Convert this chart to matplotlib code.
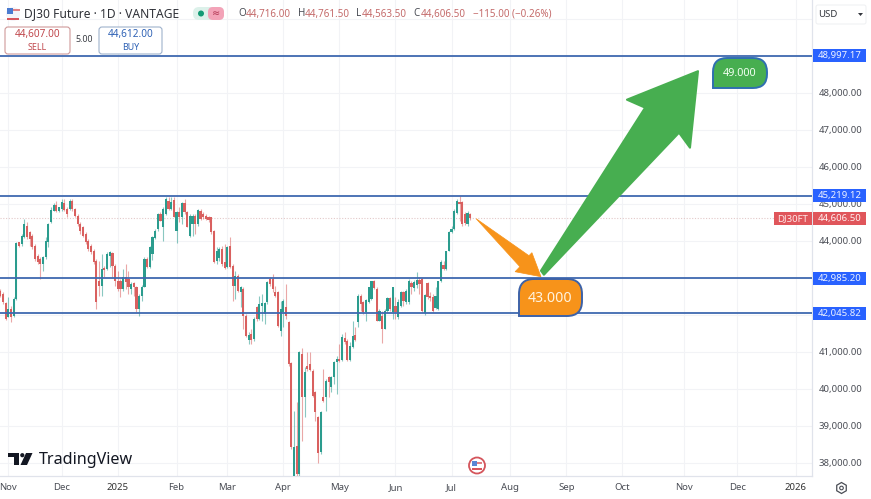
import matplotlib
matplotlib.use('Agg')
import matplotlib.pyplot as plt
import matplotlib.patches as mpatches
from matplotlib.path import Path
from matplotlib.transforms import Affine2D

plt.rcParams['font.family'] = ['Noto Sans', 'DejaVu Sans']

# daily candles (bar number = position in the list)
opens = [42652,42562,42310,41932,42157,41977,42427,43957,43912,44092,44407,44227,44137,43867,43597,43507,43372,43552,43957,44497,
    44812,44974,44794,44857,45010,44857,44857,45082,44857,44677,44452,44362,44182,44002,43867,43732,43462,42922,42787,43264,
    43237,43597,43660,43327,42922,42922,42697,43012,42967,42697,42850,42760,42157,42517,42760,43507,43300,43642,44074,44317,
    44722,44380,44722,45082,44857,45100,44272,44767,44632,45010,44767,44137,44452,44677,44452,44812,44722,44677,44632,44632,
    44254,43462,43534,43777,43417,43282,43867,43327,42787,43057,42625,42697,41977,41320,41482,41347,42202,41887,42247,42022,
    42337,42967,42967,42607,42607,41572,42067,42202,41794,40687,37654,38464,37699,40939,39769,40624,40669,40489,39904,39229,
    38284,39769,39769,40309,40039,40309,40714,40804,40777,41371,41299,40777,41119,41461,41794,42514,42334,42064,42334,42424,
    42901,42694,41839,41974,41614,42109,42451,42066,42246,41931,42246,42606,42336,42336,42849,42723,42813,42939,42966,42039,
    42849,42516,42489,42183,42156,42903,43353,43236,43731,44226,44316,44739,45036,45036,44721,44451,44716]
highs = [42697,42607,42337,42472,42247,42472,43957,43975,44182,44587,44497,44272,44182,43912,43642,43570,43597,44092,44470,44902,
    45010,45082,44920,45127,45127,44902,45127,45127,44884,44722,44497,44407,44227,44047,43912,43777,43507,43462,43642,43327,
    43687,43732,43687,43372,43192,42967,43237,43372,43192,42877,42877,42787,42562,42814,43552,43552,43867,44137,44317,44740,
    44767,44902,45172,45172,45190,45190,44812,44902,45037,45127,44812,44722,44722,44722,44857,44857,44767,44722,44677,44650,
    44290,43822,43822,43867,43912,43867,44092,43372,43192,43102,42787,42742,42022,41527,41617,41932,42247,42517,42562,42337,
    42922,43012,43102,42787,42652,42382,42427,42832,41821,40714,39409,39634,41029,41101,40579,40984,40984,40534,39949,39274,
    39409,40534,40264,40354,40354,40759,40894,41209,41479,41524,41344,41254,41839,41659,42559,42559,42379,42424,42757,42919,
    42937,42739,42154,42109,42154,42487,42487,42741,42471,42426,42651,42651,42696,42966,42903,42939,43146,43011,42993,42561,
    42876,42606,42561,42741,42921,43479,43443,43731,44253,44406,44856,45126,45219,45081,44766,44793,44761]
lows = [42472,42292,41860,41932,41797,41932,42400,43822,43867,44074,44047,43867,43777,43462,43372,42967,43174,43507,43822,44470,
    44794,44767,44767,44812,44812,44650,44830,44794,44632,44407,44182,44092,43912,43732,43642,43372,42157,42517,42517,43012,
    43210,43282,43012,42787,42652,42472,42652,42697,42562,42562,42517,42067,41977,42382,42742,43264,43264,43480,44047,44272,
    44524,44002,44704,44830,44830,44632,43930,44497,44452,44722,44362,44110,44137,44182,44407,44560,44587,44560,44497,44182,
    43390,43372,43462,43327,43237,43264,43264,42382,42427,42607,42202,41617,41392,41212,41212,41302,41842,41860,41842,41752,
    42292,42787,42607,42472,41662,41437,41662,41887,40624,38374,37640,37640,37640,38599,39229,40489,40489,39769,39139,37987,
    38239,39634,39409,39769,39904,40129,39859,40714,40759,41209,40759,40759,41101,41299,41677,42109,42019,41839,42307,42397,
    42694,41821,41821,41227,41614,42064,42109,41886,41886,41886,42201,42246,42291,42291,42561,42651,42723,42561,42066,42003,
    42426,42381,42066,42156,42129,42876,43209,43209,43713,44199,44289,44721,44541,44406,44424,44406,44563]
closes = [42517,42337,41887,42157,41932,42427,43930,43867,44137,44452,44092,44047,43822,43507,43417,43372,43552,44002,44452,44830,
    44974,44794,44902,45037,44830,44722,45082,44857,44677,44452,44272,44137,43957,43777,43687,43417,42337,42787,43237,43210,
    43642,43687,43327,42922,42697,42697,43012,42877,42742,42832,42760,42157,42517,42760,43507,43282,43822,44092,44272,44722,
    44542,44857,45127,44857,45037,44650,44767,44632,45010,44767,44380,44677,44677,44452,44830,44587,44632,44587,44560,44227,
    43417,43732,43777,43372,43264,43822,43282,42787,43057,42652,42760,41977,41437,41464,41320,41887,41887,42292,42310,42310,
    42877,42832,42697,42517,41707,42157,42382,41977,40669,38419,38419,37699,40984,39769,40444,40534,40507,39814,39364,38257,
    39364,39679,40219,40174,40309,40714,40804,40759,41407,41254,40777,41164,41434,41317,42514,42289,42064,42397,42739,42901,
    42721,41839,42109,41614,42109,42451,42154,42741,42066,42336,42606,42381,42651,42921,42759,42876,42939,42831,42111,42543,
    42471,42453,42093,42516,42903,43416,43236,43713,44226,44316,44811,45081,44991,44451,44469,44739,44606.5]

# horizontal levels drawn on the chart
level_prices = [48997.17, 45219.12, 42985.20, 42045.82]
level_labels = ['48,997.17', '45,219.12', '42,985.20', '42,045.82']
last_price = 44606.5

# 42,000 and 43,000 sit under the level tags in the original, so no label there
price_ticks = [38000,39000,40000,41000,42000,43000,44000,45000,46000,47000,48000]
price_labels = ['38,000.00','39,000.00','40,000.00','41,000.00','','','44,000.00','45,000.00','46,000.00','47,000.00','48,000.00']
grid_only_prices = [49000, 50000]

month_bars = [3,23,44,66,85,106,127,148,169,191,212,233,256,276,298]
month_labels = ['Nov','Dec','2025','Feb','Mar','Apr','May','Jun','Jul','Aug','Sep','Oct','Nov','Dec','2026']

# forecast arrows as bar number / price
orange_bars = [178.2,198.0,199.1,202.5,192.8,194.6]
orange_prices = [44595,43595,43676,43027,43162,43297]
green_bars = [261.3,258.3,254.2,203.6,202.5,241.5,234.7]
green_prices = [48581,46514,46919,43081,43189,47595,47811]

W, H = 871, 499
YMIN, YMAX = 37641, 50505
fig = plt.figure(figsize=(W/100, H/100), dpi=100, facecolor='white')
ax = fig.add_axes([0, 1-476/H, 812/W, 476/H])
px = Affine2D().scale(1, -1).translate(0, H)  # image pixels, y going down

GREEN = '#2b9c8e'
RED = '#d9605f'
BLUE = '#3f69b0'
TAG = '#2962ff'
GRID = '#f2f3f6'
TXT = '#4a4d55'

# candles
for i in range(len(opens)):
    up = closes[i] >= opens[i]
    c = GREEN if up else RED
    ax.vlines(i, lows[i], highs[i], color=c, lw=0.8, alpha=0.55, zorder=3)
    bottom = min(opens[i], closes[i])
    ax.bar(i, abs(closes[i]-opens[i]), bottom=bottom, width=0.8, color=c, lw=0, zorder=4)

ax.set_xlim(-0.11, 304)
ax.set_ylim(YMIN, YMAX)
ax.yaxis.tick_right()
ax.set_yticks(price_ticks)
ax.set_yticklabels(price_labels, fontsize=6.9, color=TXT)
ax.set_yticks(grid_only_prices, minor=True)
ax.set_xticks(month_bars)
ax.set_xticklabels(month_labels, fontsize=6.9, color=TXT)
for lab in ax.get_xticklabels():
    if lab.get_text() in ('2025', '2026'):
        lab.set_fontweight('bold')
        lab.set_color('#333333')
ax.tick_params(axis='both', which='both', length=0)
ax.tick_params(axis='x', pad=5)
ax.tick_params(axis='y', pad=5)
ax.grid(True, which='both', color=GRID, lw=0.8, zorder=0)
ax.set_axisbelow(True)
for s in ['top', 'left']:
    ax.spines[s].set_visible(False)
for s in ['right', 'bottom']:
    ax.spines[s].set_color('#e0e3eb')
    ax.spines[s].set_linewidth(0.9)

# levels and last price line
for p in level_prices:
    ax.axhline(p, color=BLUE, lw=1.3, zorder=5)
ax.axhline(last_price, color='#e3c9c9', lw=0.8, ls=(0, (1, 1.5)), zorder=2)

# forecast arrows
ax.add_patch(mpatches.Polygon(list(zip(orange_bars, orange_prices)), closed=True, fc='#f7931a', ec='#f7931a', lw=0.5, zorder=7))
ax.add_patch(mpatches.Polygon(list(zip(green_bars, green_prices)), closed=True, fc='#47ae50', ec='#47ae50', lw=1.5, joinstyle='round', zorder=6))


def box(x0, y0, x1, y1, fc, ec='none', lw=0.0, r=0.0):
    if r > 0:
        p = mpatches.FancyBboxPatch((x0+r, y0+r), x1-x0-2*r, y1-y0-2*r, boxstyle='round,pad=%g,rounding_size=%g' % (r, r),
                                    fc=fc, ec=ec, lw=lw, transform=px)
    else:
        p = mpatches.Rectangle((x0, y0), x1-x0, y1-y0, fc=fc, ec=ec, lw=lw, transform=px)
    fig.add_artist(p)


def label(x, y, s, size=6.9, color=TXT, ha='center', weight='normal'):
    fig.text(x, y, s, transform=px, fontsize=size, color=color, ha=ha, va='center', fontweight=weight, zorder=9)


def callout(x0, y0, x1, y1, r, fc, ec):
    # rounded box with a square bottom left corner
    verts = [(x0, y1), (x0, y0+r), (x0, y0), (x0+r, y0), (x1-r, y0), (x1, y0), (x1, y0+r),
             (x1, y1-r), (x1, y1), (x1-r, y1), (x0, y1)]
    codes = [Path.MOVETO, Path.LINETO, Path.CURVE3, Path.CURVE3, Path.LINETO, Path.CURVE3, Path.CURVE3,
             Path.LINETO, Path.CURVE3, Path.CURVE3, Path.CLOSEPOLY]
    fig.add_artist(mpatches.PathPatch(Path(verts, codes), fc=fc, ec=ec, lw=1.4, transform=px))


callout(519, 279, 582, 316, 15, '#f7931a', '#3d62a8')
label(550.5, 298, '43.000', size=10.2, color='#fff4e0')
callout(713, 58, 767, 88, 14, '#47ae50', '#2f6fb0')
label(740, 73, '49.000', size=7.8, color='#f2fff2', weight='bold')

# price tags on the axis
for p, s in zip(level_prices, level_labels):
    yp = 476 - (p-YMIN)/(YMAX-YMIN)*476
    box(813, yp-6.5, 866, yp+6.5, TAG)
    label(839.5, yp, s, color='#eef3ff')
box(774, 212, 811.5, 225, '#e0565b')
box(812.5, 212, 866, 225, '#e0565b')
label(792.5, 218.5, 'DJ30FT', color='#ffe8e8')
label(839.5, 218.5, '44,606.50', color='#fff0f0')

# header
fig.add_artist(mpatches.Circle((13, 14), 7, fc='#f4f4f8', ec='none', transform=px))
box(7, 17.5, 19, 20, '#d8555c')
box(7, 8, 13, 14, '#4a7bd0')
box(13, 9, 20, 11, '#e08085')
label(24, 14, 'DJ30 Future · 1D · VANTAGE', size=8.7, color='#2f3138', ha='left')
box(193, 7, 224, 20, '#dcf1ea', r=6)
box(208, 7, 224, 20, '#f3a3b8', r=5)
fig.add_artist(mpatches.Circle((201, 13.5), 3, fc='#129a74', transform=px))
label(216, 13.5, '≈', size=7, color='#b0324f')
RH = '#c46a6a'
label(238, 14, 'O', size=7.1, color=TXT, ha='left')
label(246, 14, '44,716.00', size=7.1, color=RH, ha='left')
label(298, 14, 'H', size=7.1, color=TXT, ha='left')
label(305, 14, '44,761.50', size=7.1, color=RH, ha='left')
label(356, 14, 'L', size=7.1, color=TXT, ha='left')
label(362, 14, '44,563.50', size=7.1, color=RH, ha='left')
label(413, 14, 'C', size=7.1, color=TXT, ha='left')
label(421, 14, '44,606.50', size=7.1, color=RH, ha='left')
label(473, 14, '−115.00 (−0.26%)', size=7.1, color=RH, ha='left')

box(5, 27, 70, 54, 'white', ec='#cf9a9a', lw=0.8, r=3)
label(37.5, 35, '44,607.00', size=7.2, color='#c0474c', weight='bold')
label(37.5, 47, 'SELL', size=6.4, color='#c0474c')
label(84, 40, '5.00', size=6.4, color='#3a3d44')
box(99, 27, 162, 54, 'white', ec='#9fb2cc', lw=0.8, r=3)
label(130.5, 35, '44,612.00', size=7.2, color='#2f62b5', weight='bold')
label(130.5, 47, 'BUY', size=6.4, color='#2f62b5')

box(816, 5, 866, 24, 'white', ec='#eeeff2', lw=0.7, r=2)
label(818, 14.5, 'USD', size=6.9, color='#33363d', ha='left')
fig.add_artist(mpatches.Polygon([(858, 13), (863, 13), (860.5, 16)], closed=True, fc='#33363d', transform=px))

# watermark logo
box(8, 453, 19, 457, '#131722')
box(13.5, 453, 19, 465, '#131722')
fig.add_artist(mpatches.Circle((22.3, 455.2), 2.1, fc='#131722', transform=px))
fig.add_artist(mpatches.Polygon([(26, 453), (32.5, 453), (27, 465), (20.5, 465)], closed=True, fc='#131722', transform=px))
label(39, 459.5, 'TradingView', size=11.6, color='#131722', ha='left', weight='bold')

# flag marker under the candles, settings icon
fig.add_artist(mpatches.Circle((477, 465.5), 8, fc='white', ec='#d4555c', lw=1.3, transform=px))
box(472, 461, 477, 466, '#5a86d4')
box(477, 462, 482, 464, '#e08085')
box(472, 468, 482, 470, '#d8555c')
fig.add_artist(mpatches.RegularPolygon((841.5, 488), 6, radius=5.5, fc='white', ec='#4a4d55', lw=0.9, transform=px))
fig.add_artist(mpatches.Circle((841.5, 488), 1.8, fc='white', ec='#4a4d55', lw=0.8, transform=px))

fig.savefig('out.png', dpi=100)
